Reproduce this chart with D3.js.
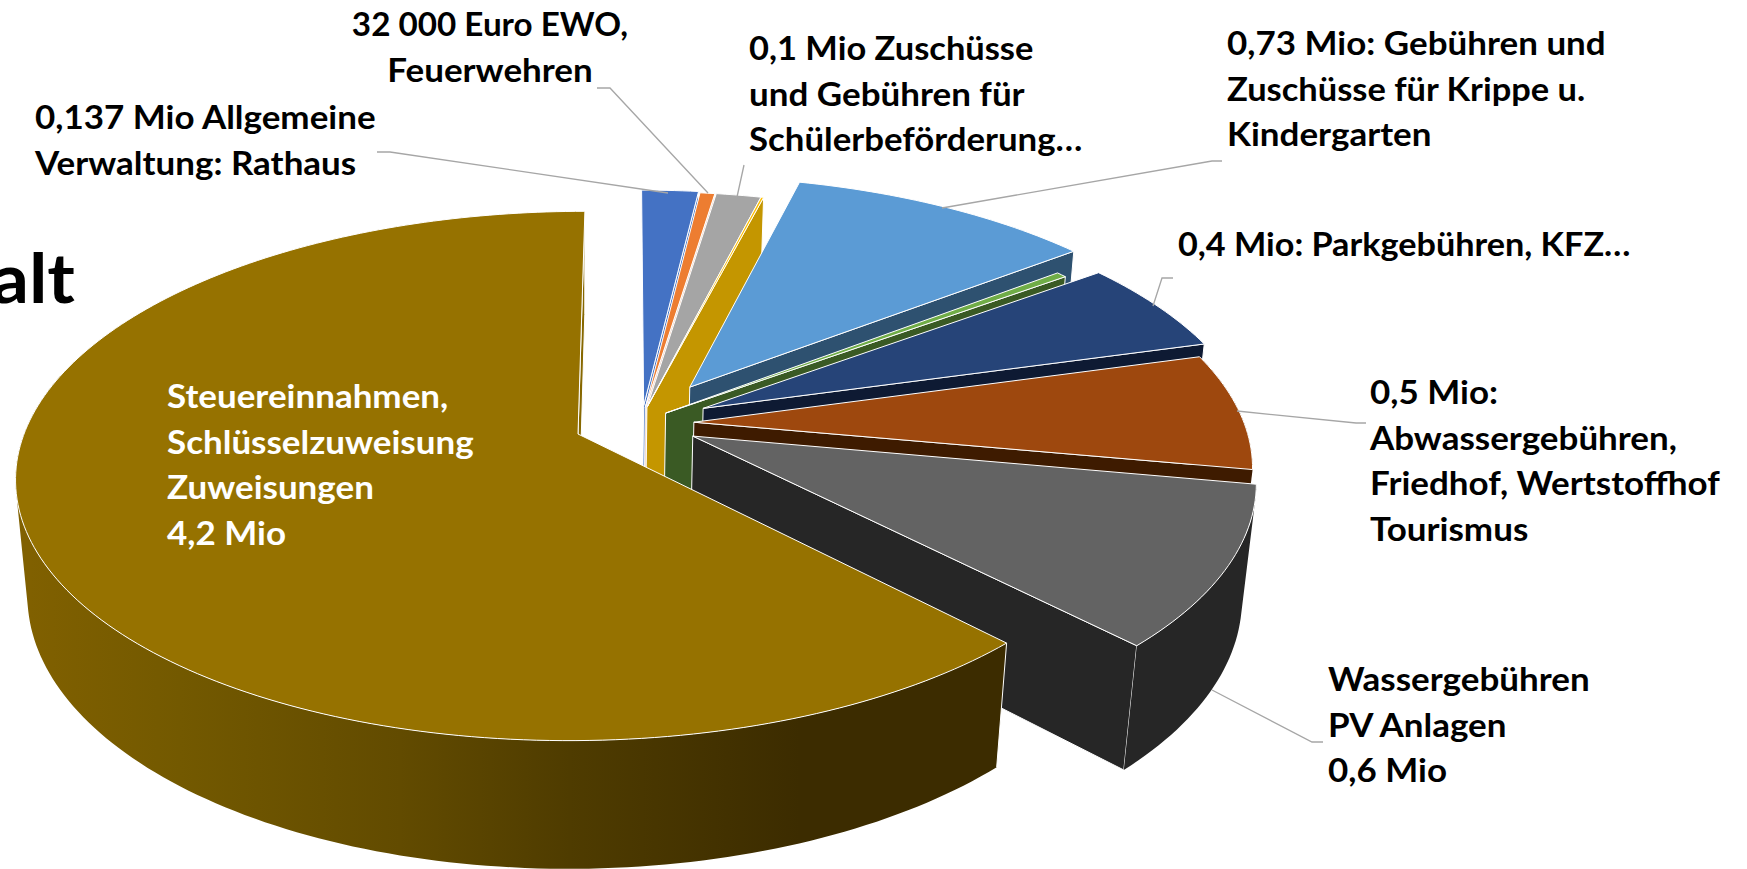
<!DOCTYPE html>
<html><head><meta charset="utf-8">
<script src="https://cdn.jsdelivr.net/npm/d3@7"></script>
<style>
html,body{margin:0;padding:0;background:#fff;overflow:hidden}
svg{display:block}
text{font-family:Lato,"Open Sans",sans-serif;font-weight:700}
</style></head><body><svg id="c" width="1747" height="869"></svg>
<script>
// ---- data (Mio Euro; order = clockwise from 12 o'clock)
const categories=["Allgemeine Verwaltung","EWO, Feuerwehren","Schülerbeförderung","Sonstige 1","Krippe und Kindergarten","Sonstige 2","Parkgebühren, KFZ","Abwasser, Friedhof, Wertstoffhof","Wasser, PV Anlagen","Steuereinnahmen"];
const values=[0.13,0.034,0.103,0.006,0.708,0.024,0.39,0.487,0.665,4.2];
const topColors=["#4472C4","#ED7D31","#A5A5A5","#FFC000","#5B9BD5","#70AD47","#264478","#9E480E","#636363","#967200"];
const faceColors=["#4472C4","#F0C8B0","#8C8C8C","#C49600","#2E5170","#3A5A24","#0E1A33","#3E1B00","#262626","#876800"];
const wallColors=["#4472C4","#F0C8B0","#8C8C8C","#C49600","#2E5170","#3A5A24","#0E1A33","#3E1B00","#262626","url(#goldWall)"];
const explodeX=[0.119,0.122,0.125,0.125,0.205,0.159,0.228,0.21,0.207,0];
const explodeY=[0.112,0.105,0.105,0.105,0.187,0.082,0.101,0.046,-0.008,0];
const labelText=[
 {lines:["0,137 Mio Allgemeine","Verwaltung: Rathaus"],x:35,y:129,fill:"#000"},
 {lines:["32 000 Euro EWO,","Feuerwehren"],fit:[0.95,1],x:490,y:36,anchor:"middle",fill:"#000"},
 {lines:["0,1 Mio Zuschüsse","und Gebühren für","Schülerbeförderung…"],fit:[0.985,1,0.995],x:749,y:60,fill:"#000"},
 {lines:["0,73 Mio: Gebühren und","Zuschüsse für Krippe u.","Kindergarten"],fit:[1,0.985,1],x:1227,y:55,fill:"#000"},
 {lines:["0,4 Mio: Parkgebühren, KFZ…"],fit:[0.978],x:1178,y:256,fill:"#000"},
 {lines:["0,5 Mio:","Abwassergebühren,","Friedhof, Wertstoffhof","Tourismus"],x:1370,y:404,fill:"#000"},
 {lines:["Wassergebühren","PV Anlagen","0,6 Mio"],x:1328,y:691,fill:"#000"},
 {lines:["Steuereinnahmen,","Schlüsselzuweisung","Zuweisungen","4,2 Mio"],x:167,y:408,fill:"#fff"}
];
const leaders=[
 [[377,152],[390,152],[668,193]],
 [[597,88],[610,88],[708,193]],
 [[744,165],[737,197]],
 [[942,208],[1212,161],[1222,161]],
 [[1153,306],[1162,278],[1173,278]],
 [[1237,411],[1356,423],[1366,423]],
 [[1212,690],[1312,742],[1323,742]]
];
const titleFragment="alt";

// ---- camera for the tilted pie: unit-radius disc, depth z in 0..1
const X0=578,Y0=434,A=554,B=258,C=8,E=117,K=0.1586,DW=0.021;
const project=(x,y,z)=>{const w=1+K*y+DW*z;return [X0+(A*x+C*y)/w,Y0+(-B*y+E*z)/w];};

const svg=d3.select("#c");
const defs=svg.append("defs");
const grad=defs.append("linearGradient").attr("id","goldWall").attr("gradientUnits","userSpaceOnUse")
  .attr("x1",0).attr("x2",1000).attr("y1",0).attr("y2",0);
[[0.03,"#806000"],[0.18,"#735900"],[0.40,"#624B00"],[0.57,"#4F3C00"],[0.80,"#3C2C00"],[1,"#3C2C00"]]
  .forEach(s=>grad.append("stop").attr("offset",s[0]).attr("stop-color",s[1]));

const arcs=d3.pie().sort(null).value(d=>d)(values);
const line=d3.line();
const gPie=svg.append("g").attr("stroke-linejoin","round");

arcs.forEach((a,i)=>{
  const ox=explodeX[i],oy=explodeY[i];
  const P=(r,t,z)=>project(ox+r*Math.sin(t),oy+r*Math.cos(t),z);
  const n=Math.max(2,Math.ceil((a.endAngle-a.startAngle)/0.02));
  const ts=d3.range(n+1).map(j=>a.startAngle+(a.endAngle-a.startAngle)*j/n);
  const g=gPie.append("g").attr("class","slice").datum(categories[i]);
  const face=t=>[P(0,t,0),P(1,t,0),P(1,t,1),P(0,t,1)];
  g.append("path").attr("d",line(face(a.endAngle))+"Z").attr("fill",faceColors[i]).attr("stroke","#fff");
  // outer wall: one path of same-oriented quads, so the silhouette stays filled and has no seams
  const front=ts.filter(t=>Math.cos(t)<0.25);
  if(front.length>1){
    const d=d3.pairs(front).map(([t0,t1])=>{
      const q=[P(1,t0,0),P(1,t1,0),P(1,t1,1),P(1,t0,1)];
      if(d3.polygonArea(q)<0) q.reverse();
      return line(q)+"Z";
    }).join("");
    g.append("path").attr("d",d).attr("fill",wallColors[i]).attr("fill-rule","nonzero");
  }
  if(Math.cos(a.startAngle)<-0.5){
    g.append("path").attr("d",line([P(1,a.startAngle,0),P(1,a.startAngle,1)])).attr("stroke","#fff").attr("fill","none");
  }
  const top=[P(0,0,0)].concat(ts.map(t=>P(1,t,0)));
  g.append("path").attr("d",line(top)+"Z").attr("fill",topColors[i]).attr("stroke","#fff");
});

svg.append("g").selectAll("path").data(leaders).join("path")
  .attr("d",d=>line(d)).attr("fill","none").attr("stroke","#A6A6A6").attr("stroke-width",1.3);

// labels: font narrowed to the label's measured width
const FS=32,LH=45.6;
const probe=svg.append("text").attr("font-size",FS).text("Abwassergebühren,");
const sx=307/probe.node().getComputedTextLength();probe.remove();
labelText.forEach(l=>{
  const t=svg.append("g").attr("transform",`translate(${l.x},${l.y})`);
  t.selectAll("text").data(l.lines).join("text")
    .attr("transform",(d,i)=>`translate(0,${i*LH}) scale(${sx*(l.fit?l.fit[i]:1)},1)`)
    .attr("font-size",FS).attr("fill",l.fill)
    .attr("text-anchor",l.anchor||"start").text(d=>d);
});
svg.append("g").attr("transform",`translate(75,303) scale(${sx},1)`).append("text")
  .attr("font-size",68).attr("text-anchor","end").attr("fill","#000").text(titleFragment);
</script></body></html>
